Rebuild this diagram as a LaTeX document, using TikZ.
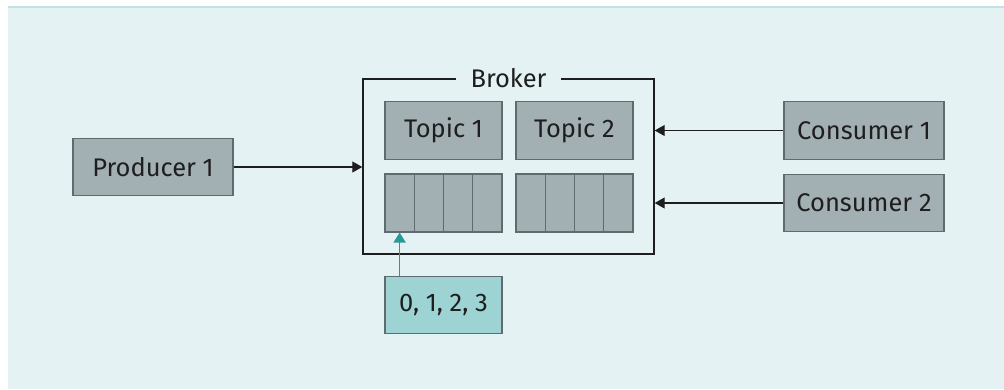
\documentclass[tikz,border=0pt]{standalone}
\usepackage{fontspec}
\setmainfont{Fira Sans}
\usetikzlibrary{arrows.meta,positioning}
\definecolor{panel}{HTML}{E4F2F3}
\definecolor{rim}{HTML}{C2E2E4}
\definecolor{box}{HTML}{A2B0B4}
\definecolor{boxline}{HTML}{5F6B6E}
\definecolor{offs}{HTML}{9DD4D3}
\definecolor{teal}{HTML}{2A9898}
\definecolor{ink}{HTML}{1E1E1E}

\begin{document}
\begin{tikzpicture}[x=1cm,y=1cm,>={Triangle[length=2mm,width=2.2mm]}, comp/.style={draw=boxline,fill=box,line width=0.6pt,minimum width=3.2cm,minimum height=1.15cm,font=\fontsize{14.5}{17}\selectfont,text=ink}, topic/.style={comp,minimum width=2.34cm}, cell/.style={draw=boxline,fill=box,line width=0.6pt,minimum width=0.585cm,minimum height=1.16cm,inner sep=0pt}, flow/.style={->,ink,line width=0.6pt}]
  \useasboundingbox (0,0) rectangle (20.08,7.78);
  \fill[panel] (0.16,0) rectangle (20.08,7.64);
  \draw[rim,line width=0.8pt] (0.16,7.64)--(20.08,7.64);
  % broker frame
  \node[draw=ink,line width=0.8pt,minimum width=5.82cm,minimum height=3.5cm] (brk) at (10.17,4.45) {};
  \node[fill=panel,inner xsep=0.3cm,inner ysep=1pt,font=\fontsize{14.5}{17}\selectfont,text=ink] (brklab) at (brk.north) {Broker};
  \node[topic] (topicA) at (8.87,5.17) {Topic 1};
  \node[topic] (topicB) at (11.49,5.17) {Topic 2};
  \foreach \t/\x in {A/7.7,B/10.32}{
    \foreach \i in {1,...,4}{\node[cell] (\t\i) at ({\x+0.2925+(\i-1)*0.585},3.72) {};}}
  % clients
  \node[comp] (prod) at (3.06,4.44) {Producer 1};
  \node[comp] (cons1) at (17.28,5.17) {Consumer 1};
  \node[comp] (cons2) at (17.28,3.72) {Consumer 2};
  \node[comp,fill=offs,minimum width=2.34cm] (offset) at (8.87,1.68) {0, 1, 2, 3};
  \draw[flow] (prod.east) -- (prod.east -| brk.west);
  \draw[flow] (cons1.west) -- (cons1.west -| brk.east);
  \draw[flow] (cons2.west) -- (cons2.west -| brk.east);
  \draw[->,teal,line width=0.8pt,>={Triangle[length=2mm,width=2.4mm]}] (offset.north -| A1.south) -- (A1.south);
\end{tikzpicture}
\end{document}
